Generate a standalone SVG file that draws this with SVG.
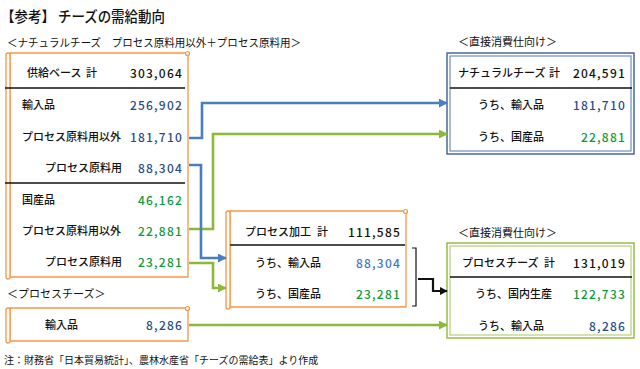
<svg xmlns="http://www.w3.org/2000/svg" width="640" height="369" viewBox="0 0 640 369">
<defs>
<style>
text{font-family:"Noto Sans CJK JP","Noto Sans",sans-serif;fill:#111;}
.t{font-size:14.5px;font-weight:500;}
.h{font-size:11px;}
.l{font-size:11px;font-weight:500;}
.n{font-size:12px;letter-spacing:1.2px;text-anchor:end;font-weight:500;}
.b{fill:#1f4e8c;}
.lb{fill:#3c78c8;}
.g{fill:#109a38;}
.scroll{fill:#fff;stroke:#f79646;stroke-width:1.3;}
.sep{stroke:#111;stroke-width:1.3;}
.blue{fill:none;stroke:#4a7ebf;stroke-width:2.6;}
.green{fill:none;stroke:#8db93a;stroke-width:2.6;}
.black{fill:none;stroke:#111;stroke-width:2.2;}
</style>
<marker id="ab" viewBox="0 0 10 10" refX="9" refY="5" markerUnits="userSpaceOnUse" markerWidth="9" markerHeight="9" orient="auto"><path d="M0,0L10,5L0,10z" fill="#4a7ebf"/></marker>
<marker id="ag" viewBox="0 0 10 10" refX="9" refY="5" markerUnits="userSpaceOnUse" markerWidth="9" markerHeight="9" orient="auto"><path d="M0,0L10,5L0,10z" fill="#8db93a"/></marker>
<marker id="ak" viewBox="0 0 10 10" refX="9" refY="5" markerUnits="userSpaceOnUse" markerWidth="8" markerHeight="8" orient="auto"><path d="M0,0L10,5L0,10z" fill="#111"/></marker>
</defs>
<rect width="640" height="369" fill="#fff"/>
<text class="t" x="1" y="22" textLength="164" lengthAdjust="spacingAndGlyphs">【参考】 チーズの需給動向</text>

<g id="supply">
<text class="h" x="7" y="47" textLength="294" lengthAdjust="spacingAndGlyphs">＜ナチュラルチーズ　プロセス原料用以外＋プロセス原料用＞</text>
<path class="scroll" d="M10,53H188V277H10z"/>
<rect class="scroll" x="6" y="53" width="4" height="226" rx="2"/>
<circle cx="187.5" cy="53.5" r="2" fill="#fff" stroke="#f79646" stroke-width="1.2"/>
<line class="sep" x1="5" y1="88" x2="185" y2="88"/>
<line class="sep" x1="5" y1="183" x2="185" y2="183"/>
<text class="l" x="27" y="77">供給ベース <tspan x="86">計</tspan></text><text class="n" x="183" y="78">303,064</text>
<text class="l" x="22" y="109">輸入品</text><text class="n b" x="183" y="110">256,902</text>
<text class="l" x="22" y="141">プロセス原料用以外</text><text class="n b" x="183" y="142">181,710</text>
<text class="l" x="45" y="172">プロセス原料用</text><text class="n b" x="183" y="173">88,304</text>
<text class="l" x="22" y="204">国産品</text><text class="n g" x="183" y="205">46,162</text>
<text class="l" x="22" y="235">プロセス原料用以外</text><text class="n g" x="183" y="236">22,881</text>
<text class="l" x="45" y="266">プロセス原料用</text><text class="n g" x="183" y="267">23,281</text>
</g>

<g id="process-import">
<text class="h" x="7" y="298">＜プロセスチーズ＞</text>
<path class="scroll" d="M10,308H188V341H10z"/>
<rect class="scroll" x="6" y="308" width="4" height="35" rx="2"/>
<circle cx="187.5" cy="308.5" r="2" fill="#fff" stroke="#f79646" stroke-width="1.2"/>
<text class="l" x="45" y="329">輸入品</text><text class="n b" x="183" y="330">8,286</text>
</g>

<g id="process-work">
<path class="scroll" d="M230,211H406V307H230z"/>
<rect class="scroll" x="226" y="211" width="4" height="98" rx="2"/>
<circle cx="405.5" cy="211.5" r="2" fill="#fff" stroke="#f79646" stroke-width="1.2"/>
<line class="sep" x1="230" y1="245" x2="405" y2="245"/>
<text class="l" x="245" y="236">プロセス加工 <tspan x="317">計</tspan></text><text class="n" x="401" y="237">111,585</text>
<text class="l" x="255" y="267">うち、輸入品</text><text class="n lb" x="401" y="268">88,304</text>
<text class="l" x="255" y="298">うち、国産品</text><text class="n g" x="401" y="299">23,281</text>
<path d="M412,248H416V306H412" fill="none" stroke="#111" stroke-width="1.2"/>
</g>

<g id="direct-natural">
<text class="h" x="458" y="46">＜直接消費仕向け＞</text>
<rect x="447" y="53" width="187" height="101" fill="#fff" stroke="#3d5f95" stroke-width="1.4"/>
<rect x="450" y="56" width="181" height="95" fill="none" stroke="#6f8fc0" stroke-width="1.2"/>
<line class="sep" x1="450" y1="88" x2="632" y2="88"/>
<text class="l" x="458" y="77">ナチュラルチーズ <tspan x="549">計</tspan></text><text class="n" x="626" y="78">204,591</text>
<text class="l" x="478" y="109">うち、輸入品</text><text class="n b" x="626" y="110">181,710</text>
<text class="l" x="478" y="141">うち、国産品</text><text class="n g" x="626" y="142">22,881</text>
</g>

<g id="direct-process">
<text class="h" x="458" y="237">＜直接消費仕向け＞</text>
<rect x="447" y="243" width="187" height="95" fill="#fff" stroke="#8db93a" stroke-width="1.4"/>
<rect x="450" y="246" width="181" height="89" fill="none" stroke="#b5d07a" stroke-width="1.2"/>
<line class="sep" x1="450" y1="277" x2="632" y2="277"/>
<text class="l" x="462" y="267">プロセスチーズ <tspan x="544">計</tspan></text><text class="n" x="626" y="268">131,019</text>
<text class="l" x="475" y="298">うち、国内生産</text><text class="n g" x="626" y="299">122,733</text>
<text class="l" x="478" y="330">うち、輸入品</text><text class="n b" x="626" y="331">8,286</text>
</g>

<g id="connectors">
<path class="blue" d="M189,138H202V103H447" marker-end="url(#ab)"/>
<path class="green" d="M189,229H213V134H447" marker-end="url(#ag)"/>
<path class="blue" d="M189,165H201V258H226" marker-end="url(#ab)"/>
<path class="green" d="M189,263H213V288H226" marker-end="url(#ag)"/>
<path class="black" d="M418,279H433V291H447" marker-end="url(#ak)"/>
<path class="green" d="M189,325H447" marker-end="url(#ag)"/>
</g>

<text x="4" y="364" style="font-size:10px">注：財務省「日本貿易統計」、農林水産省「チーズの需給表」より作成</text>
</svg>
